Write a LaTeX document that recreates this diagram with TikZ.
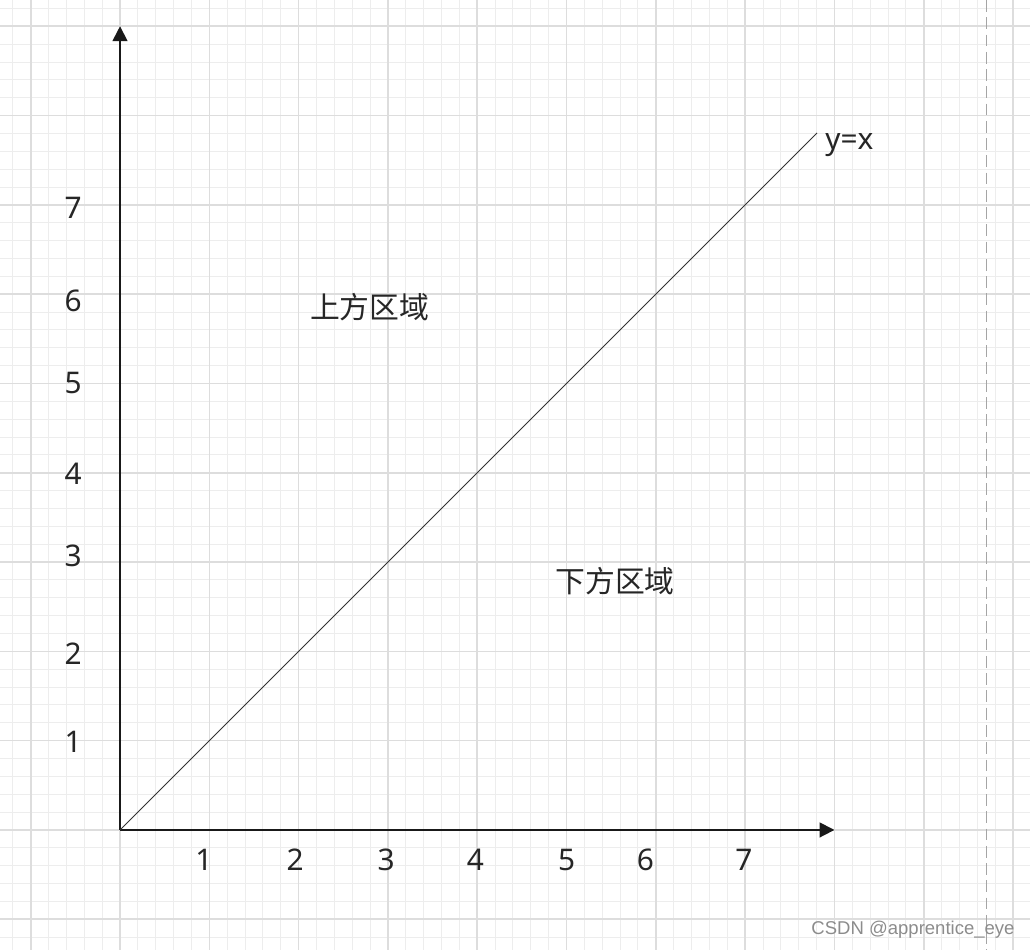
\documentclass[tikz,border=0pt]{standalone}
\usepackage{fontspec}
\setmainfont{Noto Sans}
\newfontfamily\cjk{Noto Sans CJK SC}
\newfontfamily\markfont{Liberation Sans}
\usepackage{xcolor}
\usetikzlibrary{arrows.meta,positioning}

\definecolor{minorgrid}{RGB}{237,237,237}
\definecolor{majorgrid}{RGB}{221,221,221}
\definecolor{dashgray}{RGB}{165,165,165}
\definecolor{markgray}{RGB}{140,140,140}

\begin{document}
\begin{tikzpicture}[x=2cm,y=2cm,
	axis/.style={line width=1.1pt,draw=black!90,-{Triangle[length=9.5pt,width=9.5pt]}},
	lbl/.style={font=\fontsize{19}{19}\selectfont,text=black!85,inner sep=0pt}]
		\useasboundingbox (-1.344,-1.344) rectangle (10.190,9.294);
		\fill[white] (-1.344,-1.344) rectangle (10.190,9.294);
		% background grid
		\draw[minorgrid,line width=0.6pt,step=0.2] (-1.344,-1.344) grid (10.190,9.294);
		\draw[majorgrid,line width=1pt,step=1] (-1.344,-1.344) grid (10.190,9.294);
		\coordinate (pagetop) at (9.698,9.294);
		\coordinate (pagebot) at (9.698,-1.344);
		\draw[dashgray,line width=0.6pt,dash pattern=on 7.5pt off 3.5pt] (pagetop) -- (pagebot);
		% axes and the line y=x
		\coordinate (O) at (0,0);
		\coordinate (xtip) at (8.0,0);
		\coordinate (ytip) at (0,9.0);
		\coordinate (diag) at (7.805,7.805);
		\draw[axis] (O) -- (xtip);
		\draw[axis] (O) -- (ytip);
		\draw[black!80,line width=0.6pt] (O) -- (diag);
		\node[lbl,anchor=base west] (yx) at (7.895,7.615) {y=x};
		% tick numbers
		\foreach \n/\p in {1/0.938,2/1.960,3/2.979,4/3.980,5/5.002,6/5.882,7/6.987}
			\node[lbl] (xn\n) at (\p,-0.336) {\n};
		\foreach \n/\p in {1/0.985,2/1.971,3/3.068,4/3.987,5/5.006,6/5.924,7/6.965}
			\node[lbl] (yn\n) at (-0.526,\p) {\n};
		% regions
		\node[lbl] (upper) at (2.797,5.857) {\cjk 上方区域};
		\node[lbl] (lower) at (5.543,2.788) {\cjk 下方区域};
		\node[font=\markfont\fontsize{11.8}{12}\selectfont,text=markgray,inner sep=0pt] (mark) at (8.88,-1.12) {CSDN @apprentice\_eye};
		\end{tikzpicture}
\end{document}
